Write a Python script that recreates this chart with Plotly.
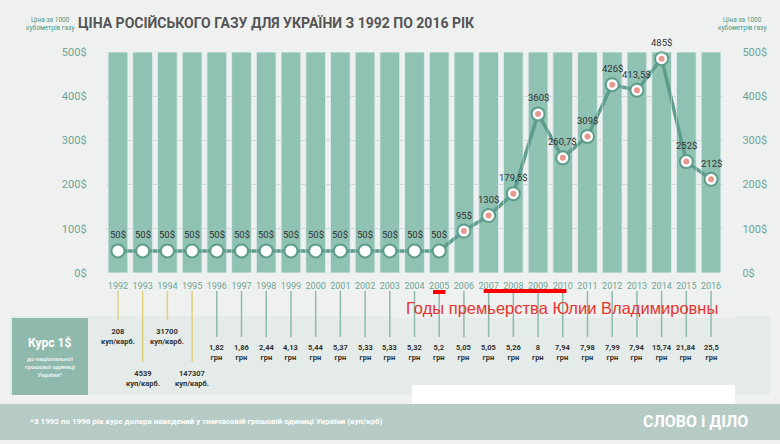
import plotly.graph_objects as go

years = list(range(1992, 2017))
prices = [50]*14 + [95, 130, 179.5, 360, 260.7, 309, 426, 413.5, 485, 252, 212]
price_labels = ["50$"]*14 + ["95$", "130$", "179,5$", "360$", "260,7$", "309$", "426$", "413,5$", "485$", "252$", "212$"]
rates = ["208<br>куп/карб.", "4539<br>куп/карб.", "31700<br>куп/карб.", "147307<br>куп/карб.",
         "1,82", "1,86", "2,44", "4,13", "5,44", "5,37", "5,33", "5,33", "5,32", "5,2", "5,05",
         "5,05", "5,26", "8", "7,94", "7,98", "7,99", "7,94", "15,74", "21,84", "25,5"]
y_ticks = [0, 100, 200, 300, 400, 500]

H = 444
def py(p):
    return 1 - p / H

NF = "Roboto"
fig = go.Figure()
fig.add_trace(go.Bar(x=years, y=[500]*len(years), marker_color="#8fc2b3", width=0.8,
                     hoverinfo="skip", showlegend=False))
fig.add_trace(go.Bar(x=years, y=[500]*len(years), marker_color="rgba(0,0,0,0)", width=0.8,
                     hoverinfo="skip", showlegend=False, yaxis="y2"))
fig.add_trace(go.Scatter(x=years, y=prices, mode="lines+markers",
                         line=dict(color="#5e9c8c", width=3.5),
                         marker=dict(size=13, color="white", line=dict(color="#5e9c8c", width=2)),
                         showlegend=False, cliponaxis=False))
fig.add_trace(go.Scatter(x=years[14:], y=prices[14:], mode="markers",
                         marker=dict(size=6, color="#e8998f"), showlegend=False, cliponaxis=False))

shapes = []
ann = []
for yr, p, t in zip(years, prices, price_labels):
    ann.append(dict(x=yr, y=p, xref="x", yref="y", text=t, showarrow=False, yshift=16,
                    xanchor="center", yanchor="middle", font=dict(size=9.5, color="#333", family=NF)))
shapes.append(dict(type="rect", xref="paper", yref="paper", x0=0, x1=1, y0=py(440), y1=py(404),
                   fillcolor="#b7cbc6", line_width=0, layer="below"))
shapes.append(dict(type="rect", xref="paper", yref="paper", x0=10/780, x1=770/780, y0=py(395), y1=py(316),
                   fillcolor="#e4ebe9", line_width=0, layer="below"))
shapes.append(dict(type="rect", xref="paper", yref="paper", x0=12/780, x1=88/780, y0=py(395), y1=py(318),
                   fillcolor="#8fb9ac", line_width=0, layer="below"))
shapes.append(dict(type="rect", xref="paper", yref="paper", x0=412/780, x1=735/780, y0=py(404), y1=py(385),
                   fillcolor="white", line_width=0, layer="below"))
shapes.append(dict(type="rect", xref="paper", yref="paper", x0=395/780, x1=735/780, y0=py(318), y1=py(296),
                   fillcolor="#eef1f0", line_width=0, layer="below"))
for i, (yr, r) in enumerate(zip(years, rates)):
    if i < 4:
        end = 320 if i % 2 == 0 else 362
        shapes.append(dict(type="line", xref="x", yref="paper", x0=yr, x1=yr, y0=py(291), y1=py(end),
                           line=dict(color="#e0d27a", width=1.5)))
        ann.append(dict(x=yr, y=py(end + 16), xref="x", yref="paper", text="<b>" + r + "</b>", showarrow=False,
                        xanchor="center", yanchor="middle",
                        font=dict(size=7.5, color="#333", family=NF)))
    else:
        shapes.append(dict(type="line", xref="x", yref="paper", x0=yr, x1=yr, y0=py(291), y1=py(337),
                           line=dict(color="#8fb9ac", width=1.5)))
        ann.append(dict(x=yr, y=py(352), xref="x", yref="paper", text="<b>" + r + "<br>грн</b>", showarrow=False,
                        xanchor="center", yanchor="middle",
                        font=dict(size=7.5, color="#333", family=NF)))
shapes.append(dict(type="line", xref="x", yref="paper", x0=2004.75, x1=2005.25, y0=py(292), y1=py(292),
                   line=dict(color="red", width=4)))
shapes.append(dict(type="line", xref="x", yref="paper", x0=2006.8, x1=2010.15, y0=py(291), y1=py(291),
                   line=dict(color="red", width=4)))

def A(x, y, text, size, color, family=NF, xanchor="center"):
    return dict(x=x/780, y=py(y), xref="paper", yref="paper", text=text, showarrow=False,
                xanchor=xanchor, yanchor="middle", font=dict(size=size, color=color, family=family))

ann += [
    A(276, 23, "<b>ЦІНА РОСІЙСЬКОГО ГАЗУ ДЛЯ УКРАЇНИ З 1992 ПО 2016 РІК</b>", 14, "#555"),
    A(50, 24, "Ціна за 1000<br>кубометрів газу", 6.5, "#4d9985"),
    A(742, 24, "Ціна за 1000<br>кубометрів газу", 6.5, "#4d9985"),
    A(50, 343, "<b>Курс 1$</b>", 12, "white"),
    A(50, 366, "<b>до національної<br>грошової одиниці<br>України*</b>", 6, "#e8f2ef"),
    A(562, 308, "Годы премьерства Юлии Владимировны", 16.5, "#e8342c", "Liberation Sans"),
    A(28, 421, "<b>*З 1992 по 1996 рік курс долара наведений у тимчасовій грошовій одиниці України (куп/крб)</b>",
      8, "white", xanchor="left"),
    A(695, 421, "<b>СЛОВО і ДІЛО</b>", 16, "white"),
]

fig.update_layout(
    width=780, height=444, margin=dict(l=0, r=0, t=0, b=0),
    paper_bgcolor="#eff1f0", plot_bgcolor="rgba(0,0,0,0)", barmode="overlay",
    shapes=shapes, annotations=ann,
    xaxis=dict(domain=[105.6/780, 723.4/780], range=[1991.5, 2016.5], tickvals=years,
               ticktext=[str(y) for y in years], showgrid=False, zeroline=False, tickangle=0,
               tickfont=dict(size=9, color="#6ea596", family=NF), automargin=False,
               anchor="y", side="bottom", ticklen=4, ticks="outside", tickcolor="rgba(0,0,0,0)"),
    yaxis=dict(domain=[py(273), py(52)], range=[0, 500], tickvals=y_ticks, automargin=False,
               ticktext=[f"{v}$" for v in y_ticks], gridcolor="#c9d9d4", zeroline=False,
               tickfont=dict(size=11, color="#6ea596", family=NF), ticklabelstandoff=18),
    yaxis2=dict(domain=[py(273), py(52)], range=[0, 500], overlaying="y", side="right", automargin=False,
                tickvals=y_ticks, ticktext=[f"{v}$" for v in y_ticks], showgrid=False, zeroline=False,
                tickfont=dict(size=11, color="#6ea596", family=NF), ticklabelstandoff=18),
)
fig.write_html("out.html", config={"displayModeBar": False})
with open("out.html", encoding="utf-8") as f:
    html = f.read()
html = html.replace("<head>", "<head><style>html,body{margin:0;padding:0;overflow:hidden}</style>", 1)
with open("out.html", "w", encoding="utf-8") as f:
    f.write(html)
